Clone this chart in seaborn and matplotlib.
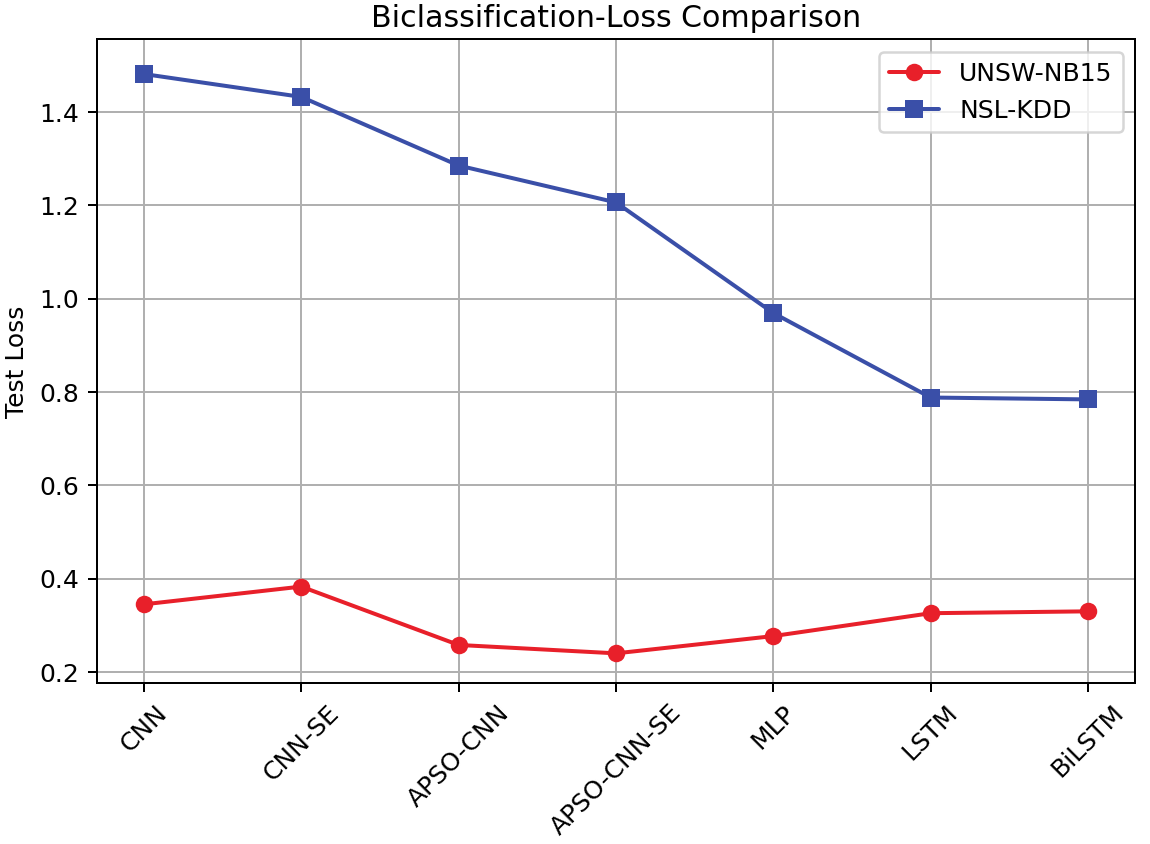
import numpy as np
import pandas as pd
import matplotlib
matplotlib.use("Agg")
import matplotlib.pyplot as plt
import seaborn as sns

models = ["CNN", "CNN-SE", "APSO-CNN", "APSO-CNN-SE", "MLP", "LSTM", "BiLSTM"]
unsw_loss = [0.345, 0.383, 0.258, 0.240, 0.277, 0.326, 0.330]
nsl_loss = [1.481, 1.432, 1.285, 1.206, 0.969, 0.788, 0.784]

df = pd.DataFrame({
    "idx": list(range(len(models))) * 2,
    "loss": unsw_loss + nsl_loss,
    "dataset": ["UNSW-NB15"] * len(models) + ["NSL-KDD"] * len(models),
})

sns.set_style("ticks", rc={"text.color": "black", "axes.labelcolor": "black",
                           "xtick.color": "black", "ytick.color": "black",
                           "axes.edgecolor": "black"})
plt.rcParams["font.family"] = ["DejaVu Sans"]

fig, ax = plt.subplots(figsize=(6.39, 4.69), dpi=180)
sns.lineplot(data=df[df.dataset == "UNSW-NB15"], x="idx", y="loss", color="#e8202a",
             marker="o", markersize=7, markeredgewidth=0, linewidth=1.6,
             label="UNSW-NB15", ax=ax)
sns.lineplot(data=df[df.dataset == "NSL-KDD"], x="idx", y="loss", color="#3a4fa8",
             marker="s", markersize=7, markeredgewidth=0, linewidth=1.6,
             label="NSL-KDD", ax=ax)

ax.set_xticks(range(len(models)))
ax.set_xticklabels(models, rotation=45)
ax.set_yticks([0.2, 0.4, 0.6, 0.8, 1.0, 1.2, 1.4])
ax.set_ylim(0.177, 1.555)
ax.set_xlabel("")
ax.set_ylabel("Test Loss")
ax.set_title("Biclassification-Loss Comparison", pad=5)
ax.grid(True, color="#b0b0b0", linewidth=0.8)
ax.legend(loc="upper right", fontsize=10, edgecolor="#cccccc")
fig.subplots_adjust(left=0.084, right=0.987, top=0.953, bottom=0.191)
fig.savefig("out.png")
